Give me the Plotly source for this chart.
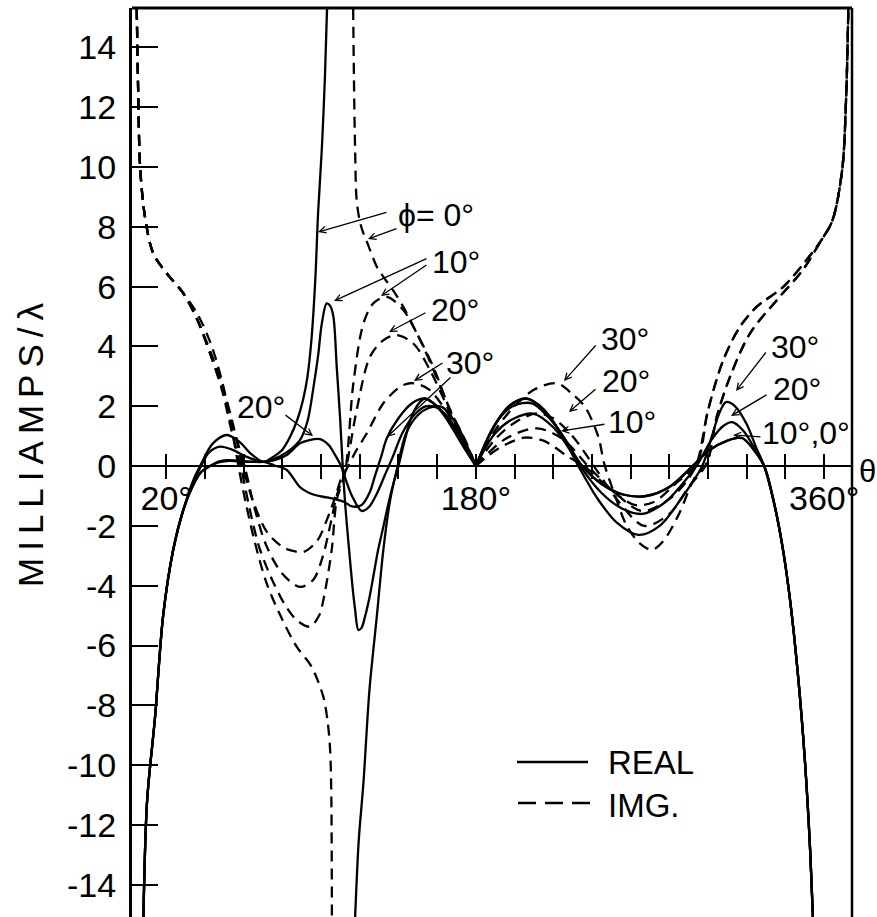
import plotly.graph_objects as go

# ---------------- axis ticks ----------------
Y_TICKS = list(range(-14, 15, 2))
Y_TICK_TEXT = [str(v) if v >= 0 else "-" + str(-v) for v in Y_TICKS]
X_TICKS = list(range(20, 361, 20))
X_TICK_TEXT = {20: "20°", 180: "180°", 360: "360°"}

# ---------------- real parts (solid) ----------------
real_left_theta = [8.2, 10.1, 14.2, 18.4, 23.6, 28.8]
real_left_value = [-15.1, -11.2, -8.4, -5.0, -2.8, -1.47]

real_plunge_theta = [334, 338.5, 342.4, 346.5, 350, 352.5, 354.2]
real_plunge_value = [-1.2, -2.7, -4.48, -7.0, -9.8, -12.5, -15.1]

real0_theta = [34.0, 37.5, 44, 51.4, 58, 64, 70.2, 75, 80, 84, 88, 91, 93, 95, 97, 98.5, 100.4, 102, 103.1]
real0_value = [-0.47, 0, 0.75, 1.04, 0.8, 0.4, 0.14, 0.3, 0.55, 0.98, 1.6, 2.3, 3.0, 4.2, 6.2, 8.5, 10.6, 13.0, 15.3]
real0_mid_theta = [117.6, 119.5, 121.9, 125, 128.8, 132.2, 135.7, 139.1, 144, 150, 156, 162.4, 170, 176, 180]
real0_mid_value = [-15.1, -12.5, -10.6, -7.5, -5.04, -2.8, -1.14, -0.13, 1.1, 1.7, 1.95, 1.98, 1.4, 0.6, 0]

real10_theta = [34.5, 38, 42, 47.8, 54, 62, 70.2, 76, 82, 89.1, 93, 96, 98.5, 100.4, 102.9, 104.8, 106.4,
                108.1, 109.8, 111.2, 112.5, 114.5, 116.2, 117.6, 119.3, 121, 122.7, 125, 127, 129.5,
                132.2, 135, 137.4, 140, 143, 146.5, 150, 153.7, 158, 163, 168, 174, 180]
real10_value = [-0.45, 0, 0.45, 0.65, 0.55, 0.3, 0.14, 0.25, 0.45, 0.87, 1.5, 2.6, 3.7, 4.77, 5.44, 5.35, 4.99,
                3.32, 1.65, 0.0, -1.3, -2.8, -4.0, -4.8, -5.48, -5.4, -5.04, -4.4, -3.7, -2.8,
                -2.03, -1.2, -0.58, 0, 0.8, 1.6, 2.05, 2.26, 2.1, 1.75, 1.25, 0.6, 0]

real20_theta = [35, 38, 42.6, 47, 51.4, 57, 63, 70.2, 76, 82.3, 89.1, 94, 99.5, 104, 107, 110, 112.5,
                116, 121, 125, 129, 133, 137, 142, 148, 154, 160, 166, 172, 180]
real20_value = [-0.5, -0.2, 0, 0.15, 0.2, 0.18, 0.15, 0.14, 0.2, 0.37, 0.76, 0.87, 0.9, 0.7, 0.4, 0.05, -0.4,
                -1.0, -1.5, -1.35, -0.9, -0.3, 0.3, 1.1, 1.7, 2.0, 1.95, 1.6, 1.0, 0]

real30_theta = [35, 38, 42.6, 47, 51.4, 57, 63, 70.2, 76, 82.3, 89.1, 96, 103, 108.1, 112, 116, 121,
                125, 128, 131, 134, 140, 147, 153.7, 160, 166, 172, 180]
real30_value = [-0.5, -0.2, 0, 0.12, 0.17, 0.16, 0.14, 0.14, 0.02, -0.13, -0.7, -0.95, -1.05, -1.12, -1.2, -1.35, -1.3,
                -0.9, -0.3, 0.3, 0.93, 1.6, 2.1, 2.26, 2.0, 1.55, 0.95, 0]

real_right010_theta = [180, 186, 192, 198, 206, 215, 225, 235, 245, 256, 268, 280, 292, 300, 310, 317.5, 323, 329]
real_right010_value = [0, 0.9, 1.6, 2.05, 2.26, 1.9, 1.0, 0, -0.6, -0.95, -1.0, -0.7, 0, 0.5, 0.85, 0.94, 0.6, 0]
real_right20_theta = [180, 190, 199, 209, 218, 227, 234, 245, 255, 266, 278, 288, 294, 302, 308, 312.5, 318, 324, 329]
real_right20_value = [0, 1.4, 2.0, 2.1, 1.6, 0.8, 0, -0.9, -1.4, -1.6, -1.2, -0.5, 0, 0.9, 1.35, 1.47, 1.2, 0.6, 0]
real_right30_theta = [180, 190, 200, 210, 220, 228, 233, 243, 253, 264, 275, 286, 297, 302, 306, 309.3, 314, 320, 325, 329]
real_right30_value = [0, 1.1, 1.6, 1.75, 1.3, 0.6, 0, -1.1, -1.9, -2.3, -2.0, -1.1, 0, 1.0, 1.8, 2.14, 2.0, 1.4, 0.6, 0]

# ---------------- imaginary parts (dashed) ----------------
img_left_theta = [4.75, 5.5, 6.5, 9.0, 13.3, 20.3, 28.8]
img_left_value = [15.3, 12.5, 10.0, 8.34, 7.11, 6.44, 5.78]

img_top_theta = [358, 364.2, 369.3, 371.3, 372.5]
img_top_value = [7.5, 8.2, 9.9, 12.2, 15.3]
img_riseA_theta = [294.2, 300, 307.9, 316.5, 325.2, 339, 352.8]
img_riseA_value = [0.09, 1.87, 3.55, 4.66, 5.33, 6.0, 7.05]
img_riseB_theta = [299.3, 304.5, 311.4, 321.7, 335.5, 349]
img_riseB_value = [0.09, 1.65, 2.99, 4.44, 5.55, 6.56]

img0_theta = [36, 43, 49, 53.5, 57.3, 61, 66, 71.9, 79, 87.4, 95, 101.2, 103.5, 104.7, 105.3, 105.6]
img0_value = [5.1, 4.1, 2.8, 1.4, 0, -1.2, -2.6, -3.92, -5.0, -6.04, -6.7, -7.72, -8.6, -9.5, -11.0, -15.1]
img0_mid_theta = [116.6, 117.0, 117.6, 118.4, 120, 121.9, 124, 128.8, 132.2, 137, 142.5, 147.5, 152.9,
                  157.5, 162.4, 168, 173.5, 180]
img0_mid_value = [15.3, 13.0, 10.6, 8.9, 8.2, 7.78, 7.45, 6.67, 6.33, 5.9, 5.33, 4.7, 3.99,
                  3.3, 2.54, 1.7, 0.98, 0]
img0_right_theta = [180, 192, 205, 215, 228, 236, 250, 262, 272, 283]
img0_right_value = [0, 0.6, 0.95, 0.85, 0.3, 0, -0.8, -1.3, -1.2, -0.6]

img10_theta = [36, 43, 49, 54, 58.5, 63, 68, 74, 81, 87.4, 94.3, 99, 101.2, 105.5, 108.1, 112.4,
               116.7, 121.9, 127, 134, 142.5, 149.5, 158, 166.7, 175.3, 180]
img10_value = [4.9, 3.7, 2.5, 1.1, 0, -1.4, -2.7, -3.7, -4.6, -5.15, -5.37, -5.0, -4.48, -2.8, -1.14, -0.2,
               2.77, 4.77, 5.44, 5.66, 5.22, 4.44, 3.32, 1.87, 0.76, 0]
img10_right_theta = [180, 195, 211.5, 225, 238, 252, 266, 280, 289]
img10_right_value = [0, 0.9, 1.26, 0.9, 0, -0.9, -1.5, -1.1, -0.5]

img20_theta = [36, 43, 49, 54.5, 60.5, 66, 72, 80, 89.1, 96, 101, 105, 108.5, 112.4,
               118.4, 125.3, 132.2, 139.1, 147.7, 156.3, 166.7, 173, 180]
img20_value = [4.9, 3.7, 2.6, 1.3, 0, -1.5, -2.7, -3.6, -4.04, -3.8, -3.0, -1.9, -0.9, -0.2,
               1.87, 3.66, 4.21, 4.38, 4.1, 3.21, 1.76, 0.8, 0]
img20_right_theta = [180, 190, 200, 211.5, 220, 230, 241, 254, 267, 280, 290]
img20_right_value = [0, 0.9, 1.45, 1.76, 1.6, 1.0, 0, -1.2, -2.0, -1.6, -0.7]

img30_theta = [36, 43, 49, 54.5, 59.5, 65, 72, 80, 85, 90.9, 98, 103, 107.5, 110.5, 112.4,
               118, 123.6, 132.2, 140.8, 146, 151, 156.3, 166.7, 175.3, 180]
img30_value = [4.9, 3.8, 2.7, 1.4, 0, -1.2, -2.2, -2.7, -2.83, -2.87, -2.5, -1.8, -1.0, -0.4, -0.2,
               0.5, 1.09, 2.1, 2.65, 2.77, 2.72, 2.54, 1.65, 0.65, 0]
img30_right_theta = [180, 190, 200, 210, 221.8, 230, 236.4, 243.3, 246.3, 252, 258, 265, 271, 277, 285, 293]
img30_right_value = [0, 1.2, 2.0, 2.55, 2.77, 2.4, 1.98, 0.98, 0.09, -1.0, -2.0, -2.6, -2.8, -2.5, -1.6, -0.4]

# ---------------- figure geometry ----------------
W, H = 877, 917
L_PX, R_PX, T_PX, B_PX = 132, 852, 8, 917
X_RANGE = [2.3, 374.4]
Y_RANGE = [-15.08, 15.32]
AXIS_POS = (0 - Y_RANGE[0]) / (Y_RANGE[1] - Y_RANGE[0])


def px_theta(px):
    return X_RANGE[0] + (px - L_PX) * (X_RANGE[1] - X_RANGE[0]) / (R_PX - L_PX)


def px_val(py):
    return Y_RANGE[1] - (py - T_PX) * (Y_RANGE[1] - Y_RANGE[0]) / (B_PX - T_PX)


def paper_x(px):
    return (px - L_PX) / (R_PX - L_PX)


def paper_y(py):
    return (B_PX - py) / (B_PX - T_PX)


def join(*parts):
    """Concatenate (theta, value) pieces; a None between pieces breaks the line."""
    xs, ys = [], []
    for i, (tx, vy) in enumerate(parts):
        if i:
            xs.append(None)
            ys.append(None)
        xs += list(tx)
        ys += list(vy)
    return xs, ys


def cat(*pieces):
    xs, ys = [], []
    for tx, vy in pieces:
        xs += list(tx)
        ys += list(vy)
    return xs, ys


real_left = (real_left_theta, real_left_value)
real_plunge = (real_plunge_theta, real_plunge_value)
img_left = (img_left_theta, img_left_value)
img_top = (img_top_theta, img_top_value)
riseA = (img_riseA_theta, img_riseA_value)
riseB = (img_riseB_theta, img_riseB_value)

curves = {
    "real 0°": join(cat(real_left, (real0_theta, real0_value)),
                    (real0_mid_theta, real0_mid_value),
                    cat((real_right010_theta, real_right010_value), real_plunge)),
    "real 10°": join(cat(real_left, (real10_theta, real10_value)),
                     cat((real_right010_theta, real_right010_value), real_plunge)),
    "real 20°": join(cat(real_left, (real20_theta, real20_value)),
                     cat((real_right20_theta, real_right20_value), real_plunge)),
    "real 30°": join(cat(real_left, (real30_theta, real30_value)),
                     cat((real_right30_theta, real_right30_value), real_plunge)),
    "img 0°": join(cat(img_left, (img0_theta, img0_value)),
                   (img0_mid_theta, img0_mid_value),
                   cat((img0_right_theta, img0_right_value), riseA, img_top)),
    "img 10°": join(cat(img_left, (img10_theta, img10_value)),
                    cat((img10_right_theta, img10_right_value), riseA, img_top)),
    "img 20°": join(cat(img_left, (img20_theta, img20_value)),
                    cat((img20_right_theta, img20_right_value), riseB, img_top)),
    "img 30°": join(cat(img_left, (img30_theta, img30_value)),
                    cat((img30_right_theta, img30_right_value), riseB, img_top)),
}

FONT = "Liberation Sans"
fig = go.Figure()

for name, (xs, ys) in curves.items():
    dashed = name.startswith("img")
    fig.add_trace(go.Scatter(
        x=xs, y=ys, mode="lines", name=name, connectgaps=False,
        line=dict(color="black", width=2.3, shape="spline", smoothing=0.9,
                  dash="11px,7px" if dashed else "solid"),
        showlegend=False, hoverinfo="skip"))

# companion axes carrying the upward and downward halves of the crossing ticks
for ax_name in ("x2", "x3"):
    fig.add_trace(go.Scatter(x=X_TICKS, y=[0] * len(X_TICKS), xaxis=ax_name, mode="markers",
                             marker=dict(size=1, opacity=0), showlegend=False, hoverinfo="skip"))

# ---------------- labels with arrows ----------------
labels = [
    ("ϕ= 0°", 436, 215),
    ("10°", 456, 262),
    ("20°", 455, 310),
    ("30°", 470, 363),
    ("20°", 261, 407),
    ("30°", 625, 339),
    ("20°", 626, 381),
    ("10°", 632, 422),
    ("30°", 795, 347),
    ("20°", 797, 389),
    ("10°,0°", 806, 433),
]
# (tail_px, tail_py, head_px, head_py)
arrows = [
    (388, 212, 318, 232),
    (398, 228, 368, 239),
    (428, 258, 334, 301),
    (428, 264, 381, 296),
    (427, 312, 389, 332),
    (444, 362, 414, 381),
    (452, 376, 387, 437),
    (284, 414, 313, 436),
    (597, 344, 564, 381),
    (597, 388, 569, 412),
    (606, 424, 561, 431),
    (767, 351, 736, 391),
    (768, 394, 731, 416),
    (762, 437, 733, 435),
]

annotations = []
for text, cx, cy in labels:
    annotations.append(dict(x=px_theta(cx), y=px_val(cy), xref="x", yref="y", text=text,
                            xanchor="center", yanchor="middle",
                            showarrow=False, font=dict(family=FONT, size=32, color="black")))
for tx, ty, hx, hy in arrows:
    annotations.append(dict(x=px_theta(hx), y=px_val(hy), ax=px_theta(tx), ay=px_val(ty),
                            xref="x", yref="y", axref="x", ayref="y", text="", showarrow=True,
                            arrowhead=5, arrowsize=1.0, arrowwidth=1.3, arrowcolor="black", standoff=0))

# axis title and theta symbol
annotations.append(dict(x=paper_x(30), y=paper_y(445), xref="paper", yref="paper",
                        text="M\u2009I\u2009L\u2009L\u2009I\u2009A\u2009M\u2009P\u2009S\u2009/\u2009λ",
                        textangle=-90, xanchor="center", yanchor="middle", showarrow=False,
                        font=dict(family=FONT, size=35, color="black")))
annotations.append(dict(x=paper_x(857), y=px_val(471), xref="paper", yref="y", text="θ", xanchor="left",
                        yanchor="middle", showarrow=False, font=dict(family=FONT, size=31, color="black")))

# key
annotations.append(dict(x=paper_x(606), y=paper_y(762), xref="paper", yref="paper", text="REAL",
                        xanchor="left", yanchor="middle", showarrow=False,
                        font=dict(family=FONT, size=33, color="black")))
annotations.append(dict(x=paper_x(606), y=paper_y(805), xref="paper", yref="paper", text="IMG.",
                        xanchor="left", yanchor="middle", showarrow=False,
                        font=dict(family=FONT, size=33, color="black")))

shapes = [
    # frame: top and right edges
    dict(type="line", xref="paper", yref="paper", x0=0, x1=1, y0=1, y1=1, line=dict(color="black", width=3)),
    dict(type="line", xref="paper", yref="paper", x0=1, x1=1, y0=0, y1=1, line=dict(color="black", width=2.5)),
    # key samples
    dict(type="line", xref="paper", yref="paper", x0=paper_x(517), x1=paper_x(588),
         y0=paper_y(762), y1=paper_y(762), line=dict(color="black", width=2.3)),
    dict(type="line", xref="paper", yref="paper", x0=paper_x(518), x1=paper_x(590),
         y0=paper_y(803), y1=paper_y(803), line=dict(color="black", width=2.3, dash="18px,9px")),
]

tick_common = dict(range=X_RANGE, overlaying="x", anchor="free", position=AXIS_POS, side="bottom",
                   ticklen=12, tickwidth=1.5, tickcolor="black", tickvals=X_TICKS,
                   showticklabels=False, showline=False, showgrid=False, zeroline=False)

fig.update_layout(
    width=W, height=H,
    margin=dict(l=L_PX, r=W - R_PX, t=T_PX, b=H - B_PX),
    paper_bgcolor="white", plot_bgcolor="white",
    font=dict(family=FONT, color="black", size=32),
    showlegend=False,
    xaxis=dict(range=X_RANGE, anchor="free", position=AXIS_POS, showline=True, linecolor="black",
               linewidth=2, ticks="", ticklabelstandoff=2,
               tickvals=X_TICKS, ticktext=[X_TICK_TEXT.get(t, "") for t in X_TICKS],
               tickfont=dict(family=FONT, size=34), showgrid=False, zeroline=False, fixedrange=True),
    xaxis2=dict(ticks="inside", **tick_common),
    xaxis3=dict(ticks="outside", **tick_common),
    yaxis=dict(range=Y_RANGE, showline=True, linecolor="black", linewidth=3, ticks="inside",
               ticklen=26, tickwidth=1.5, tickcolor="black", tickvals=Y_TICKS, ticktext=Y_TICK_TEXT,
               tickfont=dict(family=FONT, size=34), ticklabelstandoff=6,
               showgrid=False, zeroline=False, fixedrange=True),
    annotations=annotations,
    shapes=shapes,
)

fig.write_html("out.html")
